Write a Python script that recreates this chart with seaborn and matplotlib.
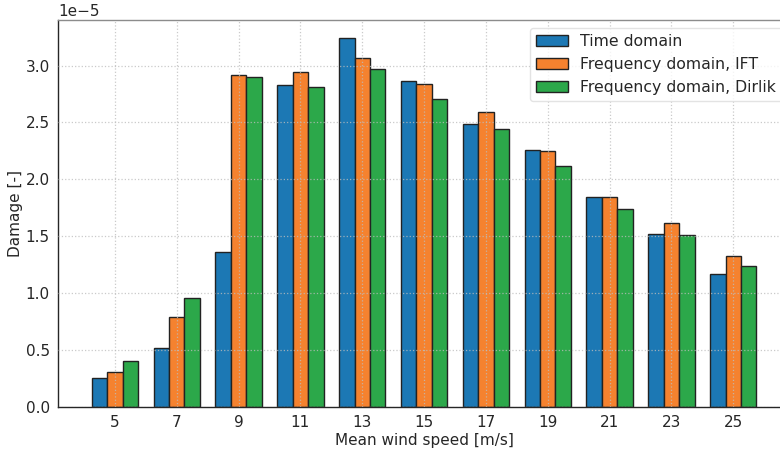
import numpy as np
import pandas as pd
import matplotlib
matplotlib.use("Agg")
import matplotlib.pyplot as plt
import seaborn as sns

# mean wind speeds [m/s]
wind_speeds = [5, 7, 9, 11, 13, 15, 17, 19, 21, 23, 25]

# damage values, in units of 1e-5
time_domain = [0.255, 0.52, 1.365, 2.83, 3.245, 2.86, 2.49, 2.26, 1.847, 1.52, 1.17]
freq_ift = [0.31, 0.79, 2.92, 2.94, 3.07, 2.84, 2.595, 2.25, 1.847, 1.62, 1.33]
freq_dirlik = [0.405, 0.96, 2.90, 2.815, 2.965, 2.71, 2.445, 2.12, 1.74, 1.51, 1.24]

series_names = ["Time domain", "Frequency domain, IFT", "Frequency domain, Dirlik"]
colors = ["#1c78b4", "#f5822f", "#2ca84a"]


def plot_damage():
    rows = []
    for name, vals in zip(series_names, [time_domain, freq_ift, freq_dirlik]):
        for ws, v in zip(wind_speeds, vals):
            rows.append({"wind": str(ws), "damage": v * 1e-5, "method": name})
    df = pd.DataFrame(rows)

    sns.set_style("white")
    plt.rcParams["font.family"] = ["DejaVu Sans"]
    text_col = "#262626"

    fig, ax = plt.subplots(figsize=(7.8, 4.5), dpi=100)
    # the right edge of the axes runs a little past the picture
    fig.subplots_adjust(left=0.0744, right=1.013, top=0.9556, bottom=0.0956)

    sns.barplot(data=df, x="wind", y="damage", hue="method",
                palette=colors, saturation=1, width=0.75,
                edgecolor="#222222", linewidth=1.0, ax=ax)

    ax.set_xlim(-0.92, 10.92)
    ax.set_ylim(0, 3.4e-5)
    ax.set_yticks(np.arange(0, 3.01e-5, 0.5e-5))
    ax.ticklabel_format(axis="y", style="sci", scilimits=(0, 0))
    ax.yaxis.get_offset_text().set_fontsize(11)
    ax.yaxis.get_offset_text().set_color(text_col)

    # grid is drawn over the bars in the original
    ax.set_axisbelow(False)
    ax.grid(True, linestyle=":", color="#bdbdbd", linewidth=0.9, alpha=0.8)

    ax.tick_params(labelsize=11, colors=text_col, length=3, pad=3)
    ax.set_xlabel("Mean wind speed [m/s]", fontsize=11, color=text_col, labelpad=2)
    ax.set_ylabel("Damage [-]", fontsize=11, color=text_col, labelpad=2)

    for side in ["left", "bottom"]:
        ax.spines[side].set_color("#262626")
    for side in ["top", "right"]:
        ax.spines[side].set_color("#8c8c8c")
    for sp in ax.spines.values():
        sp.set_linewidth(1.0)

    leg = ax.legend(loc="upper right", fontsize=11.3, frameon=True,
                    handlelength=2.0, borderaxespad=0.5)
    leg.get_frame().set_edgecolor("#dddddd")
    leg.set_zorder(5)
    for t in leg.get_texts():
        t.set_color(text_col)

    fig.savefig("out.png", dpi=100)


if __name__ == "__main__":
    plot_damage()
